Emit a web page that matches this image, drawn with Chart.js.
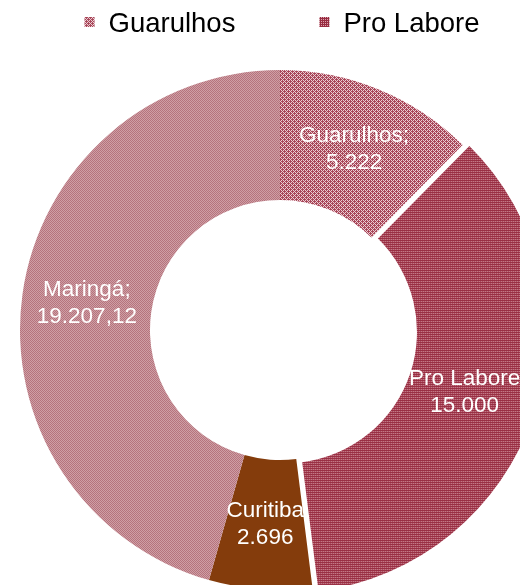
<!DOCTYPE html>
<html>
<head>
<meta charset="utf-8">
<script src="https://cdn.jsdelivr.net/npm/chart.js@4.4.0/dist/chart.umd.min.js"></script>
<style>
    html, body { margin: 0; padding: 0; background: #fff; overflow: hidden; width: 520px; height: 585px; }
    #wrap { position: absolute; left: 0; top: 0; width: 560px; height: 660px; }
</style>
</head>
<body>
<div id="wrap"><canvas id="donutChart" width="560" height="660"></canvas></div>
<script>
// chart data
const categories = ["Guarulhos", "Pro Labore", "Curitiba", "Maringá"];
const values = [5222, 15000, 2696, 19207.12];
const sliceNames = ["Guarulhos;", "Pro Labore", "Curitiba", "Maringá;"];
const legendCategories = ["Guarulhos", "Pro Labore"];

// 19207.12 -> "19.207,12"
function formatBR(v) {
    const parts = String(v).split(".");
    const intPart = parts[0].replace(/\B(?=(\d{3})+(?!\d))/g, ".");
    return parts[1] ? intPart + "," + parts[1] : intPart;
}

const canvas = document.getElementById("donutChart");
const ctx = canvas.getContext("2d");

function makePattern(tile, dark, light) {
    const c = document.createElement("canvas");
    c.width = tile[0].length;
    c.height = tile.length;
    const g = c.getContext("2d");
    tile.forEach((row, y) => {
        for (let x = 0; x < row.length; x++) {
            g.fillStyle = row[x] === "#" ? dark : light;
            g.fillRect(x, y, 1, 1);
        }
    });
    return ctx.createPattern(c, "repeat");
}

const fills = [
    makePattern(["#.#.", ".###", "#.#.", "##.#"], "#a8475a", "#ebccd1"),
    makePattern(["####", "#.#.", "####", "#.#."], "#982c41", "#dca2ac"),
    "#843c0c",
    makePattern(["#.", ".#"], "#b5737d", "#cf9fa5"),
];

const sliceLabels = {
    id: "sliceLabels",
    afterDatasetsDraw(chart) {
        const c = chart.ctx;
        const meta = chart.getDatasetMeta(0);
        c.save();
        c.font = "22.5px 'Liberation Sans', Arial, sans-serif";
        c.fillStyle = "#ffffff";
        c.textAlign = "center";
        c.textBaseline = "middle";
        meta.data.forEach((arc, i) => {
            const p = arc.getProps(["x", "y", "startAngle", "endAngle", "innerRadius", "outerRadius"]);
            const mid = (p.startAngle + p.endAngle) / 2;
            const r = (p.innerRadius + p.outerRadius) / 2;
            const cx = p.x + Math.cos(mid) * r;
            const cy = p.y + Math.sin(mid) * r;
            c.fillText(sliceNames[i], cx, cy - 13.5);
            c.fillText(formatBR(chart.data.datasets[0].data[i]), cx, cy + 13.5);
        });
        c.restore();
    },
};

const topLegend = {
    id: "topLegend",
    afterDraw(chart) {
        const c = chart.ctx;
        const box = 10, gap = 14, itemGap = 84;
        c.save();
        c.font = "27.5px 'Liberation Sans', Arial, sans-serif";
        c.textBaseline = "alphabetic";
        const widths = legendCategories.map((t) => box + gap + c.measureText(t).width);
        const total = widths.reduce((a, b) => a + b, 0) + itemGap * (widths.length - 1);
        let x = (chart.chartArea.left + chart.chartArea.right) / 2 - total / 2 + 2;
        legendCategories.forEach((t, i) => {
            const idx = categories.indexOf(t);
            c.fillStyle = chart.data.datasets[0].backgroundColor[idx];
            c.fillRect(x, 17, box, box);
            c.fillStyle = "#000000";
            c.fillText(t, x + box + gap, 32);
            x += widths[i] + itemGap;
        });
        c.restore();
    },
};

new Chart(ctx, {
    type: "doughnut",
    data: {
        labels: categories,
        datasets: [
            {
                data: values,
                backgroundColor: fills,
                borderWidth: 0,
                offset: [0, 24, 0, 0],
            },
        ],
    },
    options: {
        responsive: false,
        animation: false,
        radius: 260,
        cutout: "50%",
        layout: { padding: 0 },
        plugins: {
            legend: { display: false },
            tooltip: { enabled: false },
        },
    },
    plugins: [sliceLabels, topLegend],
});
</script>
</body>
</html>
